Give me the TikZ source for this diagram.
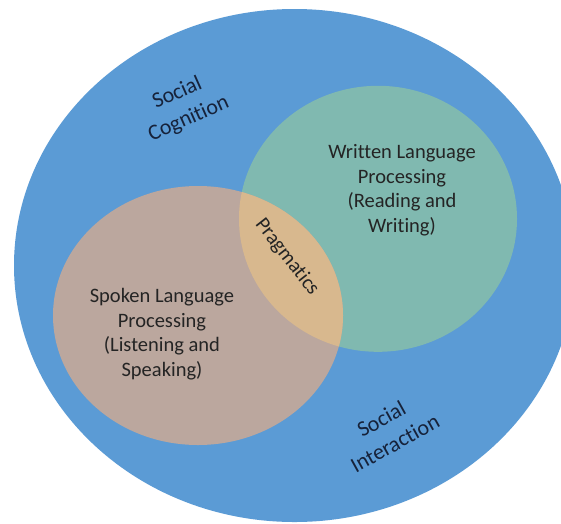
\documentclass[tikz,border=0pt]{standalone}
\usepackage{fontspec}
\setmainfont{Carlito}[Ligatures=NoCommon]
\definecolor{outerblue}{RGB}{91,155,213}
\definecolor{writtenfill}{RGB}{128,185,176}
\definecolor{spokenfill}{RGB}{187,167,158}
\definecolor{overlapfill}{RGB}{216,184,142}
\definecolor{areatext}{RGB}{36,36,36}
\definecolor{socialtext}{RGB}{22,34,58}
\begin{document}
\begin{tikzpicture}[x=1pt,y=-1pt,
  arealabel/.style={align=center, text=areatext, inner sep=0pt,
    font=\fontsize{20.5}{24.5}\selectfont},
  sociallabel/.style={align=center, text=socialtext, inner sep=0pt,
    font=\fontsize{22}{28}\selectfont}]
\useasboundingbox (0,0) rectangle (561,523);
\fill[white] (0,0) rectangle (561,523);
\clip (0,0) rectangle (561,523);
% outer social sphere
\fill[outerblue] (294.5,265.5) ellipse [x radius=280.5, y radius=256.5];
% the two language circles
\fill[writtenfill] (378,218.8) ellipse [x radius=139, y radius=133];
\fill[spokenfill] (198,315.5) ellipse [x radius=145, y radius=129.5];
% their overlap
\begin{scope}
  \clip (198,315.5) ellipse [x radius=145, y radius=129.5];
  \fill[overlapfill] (378,218.8) ellipse [x radius=139, y radius=133];
\end{scope}
% labels
\node[arealabel] (written) at (402,190) {Written Language\\Processing\\(Reading and\\Writing)};
\node[arealabel] (spoken) at (162,334) {Spoken Language\\Processing\\(Listening and\\Speaking)};
\node[arealabel, rotate=-52] (pragmatics) at (287,257) {Pragmatics};
\node[sociallabel, rotate=24] (cognition) at (183,106) {Social\\Cognition};
\node[sociallabel, rotate=29] (interaction) at (388,431) {Social\\Interaction};
\end{tikzpicture}
\end{document}
